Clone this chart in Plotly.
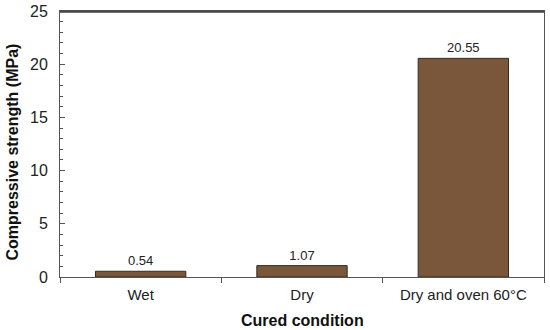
import plotly.graph_objects as go

categories = ["Wet", "Dry", "Dry and oven 60°C"]
strength = [0.54, 1.07, 20.55]
labels = ["0.54", "1.07", "20.55"]
y_ticks = [0, 5, 10, 15, 20, 25]

fig = go.Figure(go.Bar(
    x=categories, y=strength, text=labels, textposition="outside",
    textfont=dict(family="Liberation Sans, Arial", size=13, color="#222"),
    marker=dict(color="#7a573b", line=dict(color="#3a2a1c", width=1)),
    width=0.56, cliponaxis=False,
))

fig.update_layout(
    width=550, height=330,
    margin=dict(l=60, r=6, t=11, b=53),
    paper_bgcolor="white", plot_bgcolor="white",
    font=dict(family="Liberation Sans, Arial", size=15, color="#222"),
    showlegend=False,
    shapes=[dict(type="line", xref="paper", yref="paper", x0=0, y0=0.997, x1=1, y1=0.997,
                 line=dict(color="#444", width=2), layer="above")],
    annotations=[
        dict(text="<b>Cured condition</b>", xref="paper", yref="paper",
             x=0.5, y=-0.163, yanchor="middle", xanchor="center",
             showarrow=False, font=dict(size=16, color="#111")),
        dict(text="<b>Compressive strength (MPa)</b>", xref="paper", yref="paper",
             x=-0.098, y=0.47, xanchor="center", yanchor="middle", textangle=-90,
             showarrow=False, font=dict(size=16, color="#111")),
    ],
)
fig.update_xaxes(
    automargin=False,
    showline=True, linecolor="#555", linewidth=1, mirror=True,
    ticks="outside", tickson="boundaries", ticklen=5, tickcolor="#555",
    showgrid=False, ticklabelstandoff=4,
)
fig.update_yaxes(
    automargin=False,
    range=[0, 25], tickvals=y_ticks,
    showline=True, linecolor="#555", linewidth=1, mirror=True,
    ticks="inside", ticklen=5, tickcolor="#555",
    minor=dict(dtick=1, ticks="inside", ticklen=3, tickcolor="#555"),
    showgrid=False, zeroline=False, tickfont=dict(size=16),
    ticklabelstandoff=8,
)

fig.write_html("out.html", config={"displayModeBar": False},
               post_script="document.body.style.margin='0';")
